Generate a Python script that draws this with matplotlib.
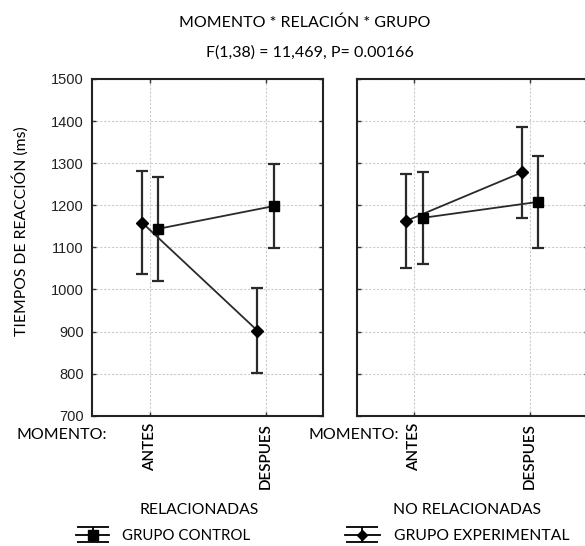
import matplotlib
matplotlib.use('Agg')
import matplotlib.pyplot as plt

# data
momento = ['ANTES', 'DESPUES']
paneles = ['RELACIONADAS', 'NO RELACIONADAS']
control_rel = [1144, 1198]
control_rel_err = [124, 100]
exper_rel = [1159, 902]
exper_rel_err = [122, 101]
control_norel = [1170, 1208]
control_norel_err = [109, 110]
exper_norel = [1163, 1278]
exper_norel_err = [111, 108]
yticks = [700, 800, 900, 1000, 1100, 1200, 1300, 1400, 1500]

TXT = 'Lato'
NUM = 'Liberation Sans'
W, H = 585, 546

fig = plt.figure(figsize=(W / 100, H / 100), dpi=100)
ax1 = fig.add_axes([92.3 / W, 1 - 415.7 / H, 231 / W, 336.7 / H])
ax2 = fig.add_axes([356.7 / W, 1 - 415.7 / H, 231 / W, 336.7 / H])

x = list(range(len(momento)))
off = 0.07
line_kw = dict(color='#2a2a2a', lw=1.3, elinewidth=1.6, capsize=4, capthick=1.6, ecolor='#2a2a2a')

for ax, ctrl, ctrl_e, exp, exp_e in [(ax1, control_rel, control_rel_err, exper_rel, exper_rel_err),
                                     (ax2, control_norel, control_norel_err, exper_norel, exper_norel_err)]:
    ax.errorbar([i - off for i in x], exp, yerr=exp_e, marker='D', ms=6,
                mfc='black', mec='black', **line_kw)
    ax.errorbar([i + off for i in x], ctrl, yerr=ctrl_e, marker='s', ms=7.5,
                mfc='black', mec='black', **line_kw)
    ax.set_xlim(-0.5, 1.5)
    ax.set_ylim(700, 1500)
    ax.set_yticks(yticks)
    ax.set_xticks(x)
    ax.set_xticklabels(momento, rotation=90, family=TXT, fontsize=11, fontweight='semibold')
    ax.grid(True, color='#cccccc', ls=(0, (2, 1.5)), lw=0.8)
    ax.set_axisbelow(True)
    ax.tick_params(direction='in', length=3, width=1, top=True, right=True, pad=5, colors='#333333')
    ax.tick_params(axis='x', labelcolor='black')
    for s in ax.spines.values():
        s.set_linewidth(1.5)
        s.set_color('#222222')

ax1.set_yticklabels([str(v) for v in yticks], family=NUM, fontsize=10.5, color='#222222')
ax1.tick_params(axis='y', pad=6)
ax2.set_yticklabels([])
fig.text(20 / W, 1 - 231 / H, 'TIEMPOS DE REACCIÓN (ms)', family=TXT, fontsize=11.3,
         rotation=90, ha='center', va='center')

fig.text(305 / W, 1 - 22.7 / H, 'MOMENTO * RELACIÓN * GRUPO', family=TXT, fontsize=11.5,
         ha='center', va='center')
fig.text(310 / W, 1 - 52.7 / H, 'F(1,38) = 11,469, P= 0.00166', family=TXT, fontsize=11.5,
         ha='center', va='center')

for xm in [16, 308]:
    fig.text(xm / W, 1 - 435 / H, 'MOMENTO:', family=TXT, fontsize=11.5, ha='left', va='center')

for xc, name in zip([199, 467], paneles):
    fig.text(xc / W, 1 - 510 / H, name, family=TXT, fontsize=11.3, ha='center', va='center')

# legend proxies (drawn off the visible range) with wide caps like the reference symbol
lx = fig.add_axes([0, 0, 0.01, 0.01])
lx.set_axis_off()
h_ctrl = lx.errorbar([0], [0], yerr=[1], marker='s', ms=6.5, color='black', lw=1.3,
                     elinewidth=1.3, capsize=11.5, capthick=1.3)
h_exp = lx.errorbar([0], [0], yerr=[1], marker='D', ms=5.5, color='black', lw=1.3,
                    elinewidth=1.3, capsize=11.5, capthick=1.3)
lx.set_xlim(5, 6)

labels = ['GRUPO CONTROL', 'GRUPO EXPERIMENTAL']
for xl, h, lab, fs in zip([76, 345], [h_ctrl, h_exp], labels, [10.8, 11.3]):
    fig.legend([h], [lab], loc='center left', bbox_to_anchor=(xl / W, 1 - 536 / H),
               frameon=False, borderpad=0, borderaxespad=0, handlelength=2.2,
               handletextpad=0.9, prop={'family': TXT, 'size': fs})

fig.savefig('out.png', dpi=100)
